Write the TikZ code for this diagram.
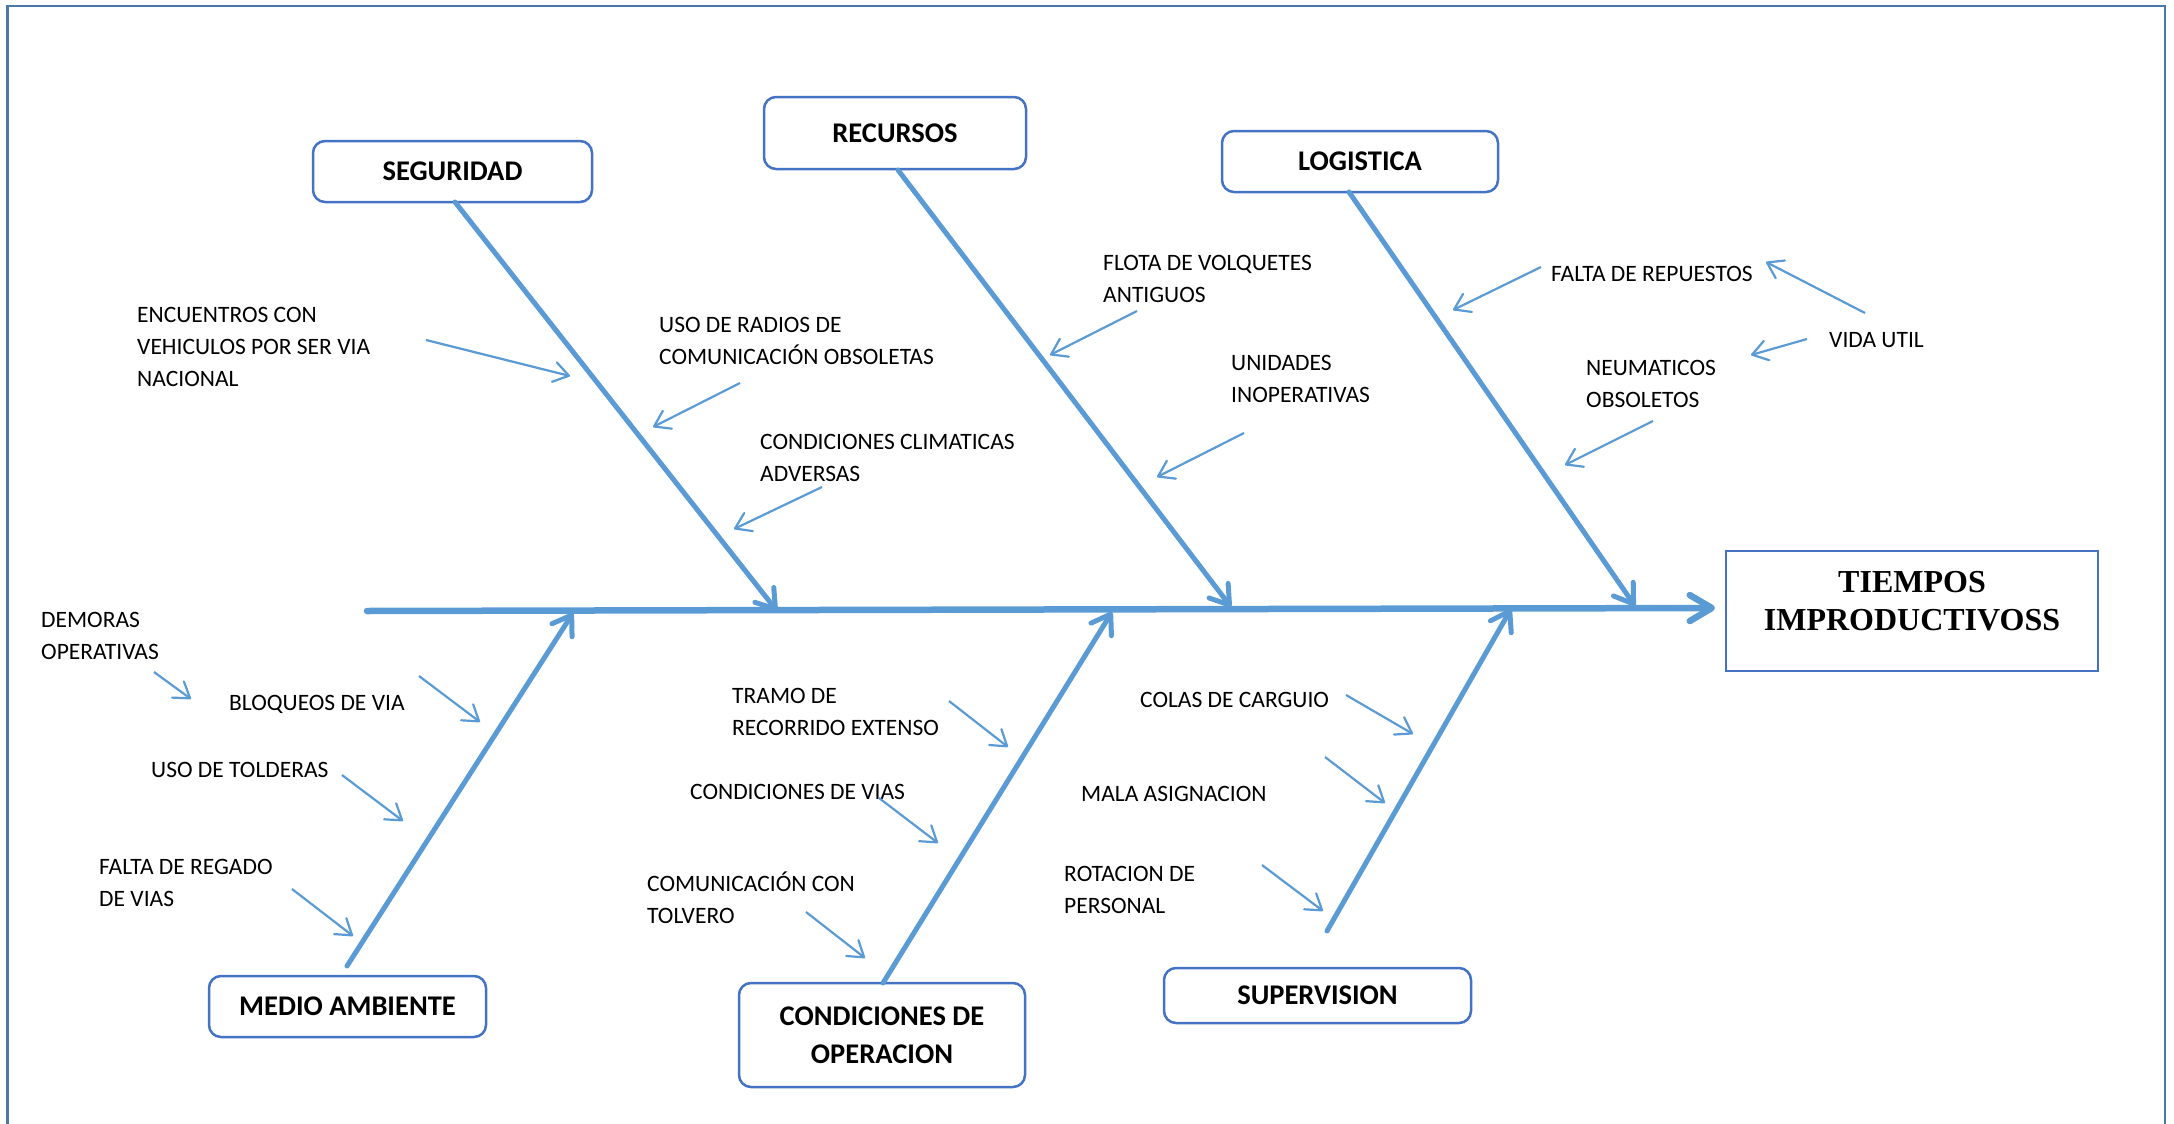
\documentclass[tikz,border=0pt]{standalone}
\usepackage{fontspec}
\setmainfont{Carlito}
\newfontfamily\tnr{Liberation Serif}
\usetikzlibrary{arrows.meta}
\definecolor{lineblue}{HTML}{5B9BD5}
\definecolor{boxblue}{HTML}{4472C4}
\definecolor{frameblue}{HTML}{4A78A8}
\begin{document}
\begin{tikzpicture}[x=1pt,y=-1pt,
 lbl/.style={anchor=north west,inner sep=0pt,align=left,font=\fontsize{23.5}{32}\selectfont},
 cat/.style={draw=boxblue,line width=2.5pt,rounded corners=12pt,inner sep=0pt,align=center,font=\bfseries\fontsize{28.5}{38}\selectfont},
 bone/.style={draw=lineblue,line width=5pt,line cap=round,-{Straight Barb[round,length=18pt,width=24pt]}},
 spinestyle/.style={draw=lineblue,line width=6.5pt,line cap=round,-{Straight Barb[round,length=22pt,width=26pt]}},
 cause/.style={draw=lineblue,line width=2.2pt,-{Straight Barb[round,length=15pt,width=20pt]}}
]
\useasboundingbox (0,0) rectangle (2174,1124);
% frame
\draw[frameblue,line width=2.5pt] (7.5,1130) -- (7.5,6) -- (2165,6) -- (2165,1130);

% effect box
\node[draw=boxblue,line width=2.5pt,minimum width=372pt,minimum height=120pt,inner sep=0pt] (tiempos) at (1912,611) {};
\node[inner sep=0pt,align=center,font=\tnr\bfseries\fontsize{32}{38}\selectfont] (tiemposlbl) at (1912,601) {TIEMPOS\\IMPRODUCTIVOSS};

% category boxes
\node[cat,minimum width=279pt,minimum height=61pt] (seg) at (452.5,171.5) {SEGURIDAD};
\node[cat,minimum width=262pt,minimum height=72pt] (rec) at (895,133) {RECURSOS};
\node[cat,minimum width=276pt,minimum height=61pt] (log) at (1360,161.5) {LOGISTICA};
\node[cat,minimum width=277pt,minimum height=61pt] (med) at (347.5,1006.5) {MEDIO AMBIENTE};
\node[cat,minimum width=286pt,minimum height=104pt] (cond) at (882,1035) {CONDICIONES DE\\OPERACION};
\node[cat,minimum width=307pt,minimum height=55pt] (sup) at (1317.5,995.5) {SUPERVISION};

% spine
\coordinate (spL) at (367,611);
\coordinate (spR) at (1715,608);
\draw[spinestyle] (spL) -- (spR);

% bones
\coordinate (segS) at (455,202);
\coordinate (segT) at (777,611);
\coordinate (recS) at (898,170);
\coordinate (recT) at (1231,607);
\coordinate (logS) at (1349,192);
\coordinate (logT) at (1635,606);
\coordinate (medS) at (347,966);
\coordinate (medT) at (573,613);
\coordinate (condS) at (883,983);
\coordinate (condT) at (1112,612);
\coordinate (supS) at (1327,931);
\coordinate (supT) at (1511,609);
\draw[bone] (segS) -- (segT);
\draw[bone] (recS) -- (recT);
\draw[bone] (logS) -- (logT);
\draw[bone] (medS) -- (medT);
\draw[bone] (condS) -- (condT);
\draw[bone] (supS) -- (supT);

% labels
\node[lbl] (enc) at (137,300) {\strut ENCUENTROS CON\\VEHICULOS POR SER VIA\\NACIONAL};
\node[lbl] (rad) at (659,310) {\strut USO DE RADIOS DE\\COMUNICACIÓN OBSOLETAS};
\node[lbl] (clim) at (760,427) {\strut CONDICIONES CLIMATICAS\\ADVERSAS};
\node[lbl] (flota) at (1103,248) {\strut FLOTA DE VOLQUETES\\ANTIGUOS};
\node[lbl] (unid) at (1231,348) {\strut UNIDADES\\INOPERATIVAS};
\node[lbl] (falta) at (1551,259) {\strut FALTA DE REPUESTOS};
\node[lbl] (vida) at (1829,325) {\strut VIDA UTIL};
\node[lbl] (neum) at (1586,353) {\strut NEUMATICOS\\OBSOLETOS};
\node[lbl] (dem) at (41,605) {\strut DEMORAS\\OPERATIVAS};
\node[lbl] (bloq) at (229,688) {\strut BLOQUEOS DE VIA};
\node[lbl] (told) at (151,755) {\strut USO DE TOLDERAS};
\node[lbl] (reg) at (99,852) {\strut FALTA DE REGADO\\DE VIAS};
\node[lbl] (tramo) at (732,681) {\strut TRAMO DE\\RECORRIDO EXTENSO};
\node[lbl] (cvias) at (690,777) {\strut CONDICIONES DE VIAS};
\node[lbl] (comtol) at (647,869) {\strut COMUNICACIÓN CON\\TOLVERO};
\node[lbl] (colas) at (1140,685) {\strut COLAS DE CARGUIO};
\node[lbl] (mala) at (1081,779) {\strut MALA ASIGNACION};
\node[lbl] (rot) at (1064,859) {\strut ROTACION DE\\PERSONAL};

% cause arrows
\coordinate (encA) at (426,340);   \coordinate (encB) at (570,376);
\coordinate (radA) at (740,383);   \coordinate (radB) at (653,427);
\coordinate (climA) at (822,487);  \coordinate (climB) at (734,529);
\coordinate (flotaA) at (1137,311);\coordinate (flotaB) at (1050,355);
\coordinate (unidA) at (1244,433); \coordinate (unidB) at (1157,477);
\coordinate (faltaA) at (1541,267);\coordinate (faltaB) at (1453,310);
\coordinate (vidaA) at (1865,313); \coordinate (vidaB) at (1766,262);
\coordinate (vidaC) at (1807,339); \coordinate (vidaD) at (1751,355);
\coordinate (neumA) at (1653,421); \coordinate (neumB) at (1565,465);
\coordinate (demA) at (154,672);   \coordinate (demB) at (191,699);
\coordinate (bloqA) at (419,676);  \coordinate (bloqB) at (480,722);
\coordinate (toldA) at (342,775);  \coordinate (toldB) at (403,821);
\coordinate (regA) at (292,889);   \coordinate (regB) at (353,936);
\coordinate (tramoA) at (949,701); \coordinate (tramoB) at (1008,747);
\coordinate (cviasA) at (879,798); \coordinate (cviasB) at (938,843);
\coordinate (comtolA) at (806,912);\coordinate (comtolB) at (865,958);
\coordinate (colasA) at (1346,695);\coordinate (colasB) at (1413,734);
\coordinate (malaA) at (1325,757); \coordinate (malaB) at (1385,803);
\coordinate (rotA) at (1262,865);  \coordinate (rotB) at (1323,911);
\foreach \a/\b in {encA/encB,radA/radB,climA/climB,flotaA/flotaB,unidA/unidB,faltaA/faltaB,vidaA/vidaB,vidaC/vidaD,neumA/neumB,demA/demB,bloqA/bloqB,toldA/toldB,regA/regB,tramoA/tramoB,cviasA/cviasB,comtolA/comtolB,colasA/colasB,malaA/malaB,rotA/rotB}
  \draw[cause] (\a) -- (\b);
\end{tikzpicture}
\end{document}
